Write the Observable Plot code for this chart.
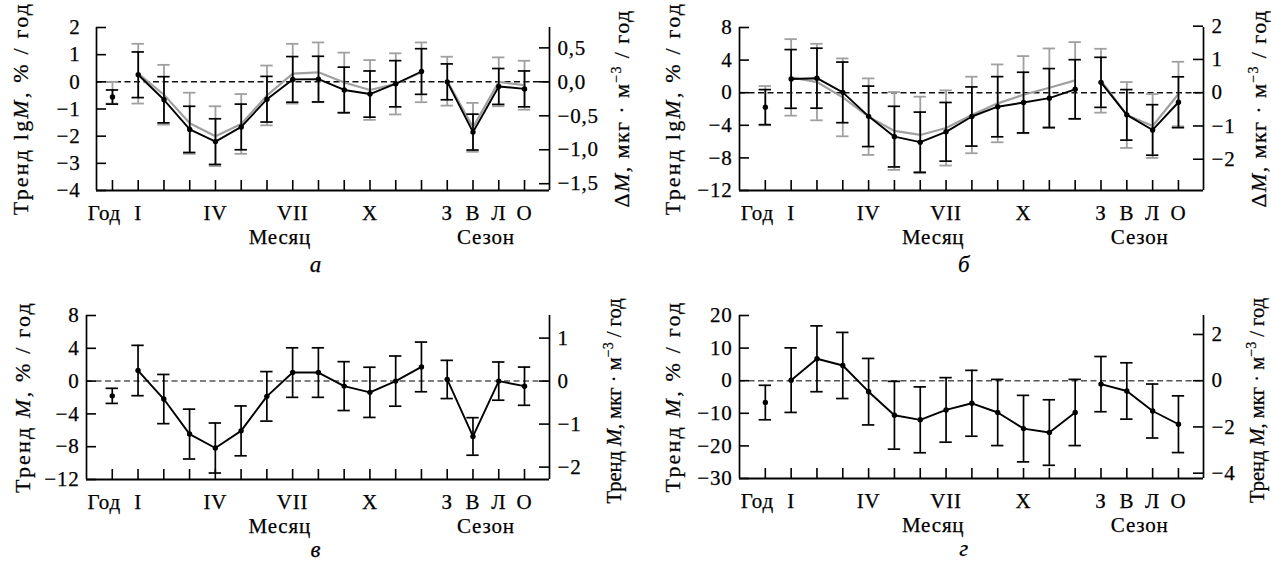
<!DOCTYPE html>
<html><head><meta charset="utf-8">
<script src="https://cdn.jsdelivr.net/npm/d3@7"></script>
<script src="https://cdn.jsdelivr.net/npm/@observablehq/plot@0.6"></script>
<style>
body{margin:0;background:#fff;}
#wrap{position:relative;width:1271px;height:563px;overflow:hidden;background:#fff;}
.cell{position:absolute;width:635px;height:281px;}
svg text{font-family:"Liberation Serif","DejaVu Serif","Noto Serif",serif !important;}
</style></head><body><div id="wrap"></div>
<script>
const categories = ["Год","I","II","III","IV","V","VI","VII","VIII","IX","X","XI","XII","З","В","Л","О"];
const tickLabels = ["Год","I","IV","VII","X","З","В","Л","О"];
const groupLabels = ["Месяц","Сезон"];

// Panel а: black = trend lgM (%/год, left axis); gray = ΔM (мкг·м^-3/год, right axis)
const a_black    = [-0.56,0.26,-0.66,-1.75,-2.20,-1.66,-0.64,0.09,0.10,-0.30,-0.45,-0.07,0.38,0.00,-1.85,-0.17,-0.26];
const a_blackErr = [0.26,0.84,0.85,0.85,0.84,0.84,0.84,0.84,0.84,0.84,0.85,0.85,0.84,0.66,0.66,0.66,0.66];
const a_gray     = [-0.16,0.12,-0.19,-0.61,-0.80,-0.62,-0.20,0.12,0.14,-0.01,-0.12,-0.03,0.14,0.01,-0.67,0.00,-0.05];
const a_grayErr  = [0.16,0.44,0.44,0.45,0.44,0.44,0.44,0.44,0.44,0.44,0.44,0.45,0.44,0.36,0.36,0.36,0.36];

// Panel б
const b_black    = [-1.77,1.69,1.78,0.04,-2.90,-5.39,-6.07,-4.80,-2.92,-1.72,-1.21,-0.67,0.42,1.27,-2.72,-4.57,-1.17];
const b_blackErr = [2.15,3.60,3.68,3.72,3.71,3.72,3.69,3.60,3.63,3.69,3.72,3.63,3.63,3.07,3.10,3.10,3.12];
const b_gray     = [-0.39,0.46,0.32,-0.14,-0.72,-1.15,-1.27,-1.06,-0.67,-0.32,-0.06,0.15,0.37,0.36,-0.67,-1.00,-0.04];
const b_grayErr  = [0.59,1.15,1.15,1.17,1.15,1.17,1.15,1.13,1.15,1.17,1.16,1.18,1.15,0.96,0.99,0.96,0.97];

// Panel в
const c_black    = [-1.80,1.29,-2.19,-6.46,-8.16,-6.07,-1.86,1.04,1.04,-0.61,-1.37,0.00,1.73,0.20,-6.75,0.00,-0.62];
const c_blackErr = [0.92,3.07,3.00,3.04,3.05,3.04,3.02,3.02,3.02,2.98,3.06,3.06,3.03,2.33,2.29,2.33,2.33];

// Panel г
const d_black    = [-6.70,0.17,6.72,4.67,-3.37,-10.60,-12.00,-8.96,-6.93,-9.75,-14.70,-15.90,-9.75,-1.05,-3.15,-9.30,-13.35];
const d_blackErr = [5.29,9.90,10.10,10.14,10.20,10.40,10.10,9.90,10.10,10.15,10.20,10.05,10.15,8.47,8.64,8.28,8.70];

// axis ticks
const a_yTicks = [2,1,0,-1,-2,-3,-4];
const a_rTicks = [0.5,0,-0.5,-1,-1.5];
const b_yTicks = [8,4,0,-4,-8,-12];
const b_rTicks = [2,1,0,-1,-2];
const c_yTicks = [8,4,0,-4,-8,-12];
const c_rTicks = [1,0,-1,-2];
const d_yTicks = [20,10,0,-10,-20,-30];
const d_rTicks = [2,0,-2,-4];

const FONT = "Liberation Serif, DejaVu Serif, Noto Serif, serif";
const FS = 21;
const LFS = 22;

function fmtNum(v, dec) {
  const s = dec ? Math.abs(v).toFixed(dec).replace(".", ",") : String(Math.abs(Math.round(v)));
  return (v < 0 ? "\u2212" : "") + s;
}

function panel(o) {
  const W = 635, H = 281;
  const [x0, x1] = o.xDomain, [y0, y1] = o.yDomain;
  const innerW = W - o.ml - o.mr, innerH = H - o.mt - o.mb;
  const k = o.k;
  const rows = categories.map((c, i) => ({
    i, c, v: o.black[i], e: o.blackErr[i],
    g: o.gray ? o.gray[i] / k : null, ge: o.gray ? o.grayErr[i] / k : null
  }));
  const monthRows = rows.slice(1, 13), seasonRows = rows.slice(13);
  const capW = 0.24;
  const marks = [];
  marks.push(Plot.ruleY([0], {stroke: o.dash, strokeWidth: 1.5, strokeDasharray: "6,3.5"}));
  if (o.gray) {
    const gs = {stroke: "#a0a0a0", strokeWidth: 1.8};
    marks.push(Plot.line(monthRows, {x: "i", y: "g", stroke: "#a0a0a0", strokeWidth: 2.2}));
    marks.push(Plot.line(seasonRows, {x: "i", y: "g", stroke: "#a0a0a0", strokeWidth: 2.2}));
    marks.push(Plot.ruleX(rows, {x: "i", y1: d => d.g - d.ge, y2: d => d.g + d.ge, ...gs}));
    marks.push(Plot.ruleY(rows, {y: d => d.g - d.ge, x1: d => d.i - capW, x2: d => d.i + capW, ...gs}));
    marks.push(Plot.ruleY(rows, {y: d => d.g + d.ge, x1: d => d.i - capW, x2: d => d.i + capW, ...gs}));
  }
  const bs = {stroke: "#000", strokeWidth: 1.7};
  marks.push(Plot.line(monthRows, {x: "i", y: "v", stroke: "#000", strokeWidth: 1.9}));
  marks.push(Plot.line(seasonRows, {x: "i", y: "v", stroke: "#000", strokeWidth: 1.9}));
  marks.push(Plot.ruleX(rows, {x: "i", y1: d => d.v - d.e, y2: d => d.v + d.e, ...bs}));
  marks.push(Plot.ruleY(rows, {y: d => d.v - d.e, x1: d => d.i - capW, x2: d => d.i + capW, ...bs}));
  marks.push(Plot.ruleY(rows, {y: d => d.v + d.e, x1: d => d.i - capW, x2: d => d.i + capW, ...bs}));
  marks.push(Plot.dot(rows, {x: "i", y: "v", r: 2.7, fill: "#000", stroke: null}));
  // frame (left, right, bottom)
  marks.push(Plot.ruleX([x0], {y1: y0, y2: y1, stroke: "#000", strokeWidth: 1.7}));
  marks.push(Plot.ruleX([x1], {y1: y0, y2: y1, stroke: "#000", strokeWidth: 1.7}));
  marks.push(Plot.ruleY([y0], {x1: x0, x2: x1, stroke: "#000", strokeWidth: 2}));
  // inward ticks
  marks.push(Plot.tickY(o.yTicks, {y: d => d, insetRight: innerW - 10, stroke: "#000", strokeWidth: 1.6}));
  marks.push(Plot.tickY(o.rTicks, {y: d => d / k, insetLeft: innerW - 10, stroke: "#000", strokeWidth: 1.6}));
  marks.push(Plot.tickX(rows, {x: "i", insetTop: innerH - 10, stroke: "#000", strokeWidth: 1.6}));
  // tick labels
  const ts = {fontSize: FS, fill: "#000", fontFamily: FONT, stroke: "#000", strokeWidth: 0.25};
  marks.push(Plot.text(o.yTicks, {x: x0, y: d => d, text: d => fmtNum(d, 0), textAnchor: "end", dx: -o.lgap, ...ts}));
  marks.push(Plot.text(o.rTicks, {x: x1, y: d => d / k, text: d => fmtNum(d, o.rDec), textAnchor: "start", dx: 8, ...ts}));
  marks.push(Plot.text(tickLabels, {x: d => categories.indexOf(d), y: y0, dy: 23, text: d => d, ...ts}));
  marks.push(Plot.text(groupLabels.slice(0, 1), {x: 6.5, y: y0, dy: 47, text: d => d, ...ts}));
  marks.push(Plot.text(groupLabels.slice(1), {x: 14.5, y: y0, dy: 47, text: d => d, ...ts}));
  marks.push(Plot.text([o.letter], {x: o.letterX, y: y0, dy: o.letterDy, text: d => d, fontStyle: "italic", ...ts, fontSize: 23}));

  const svg = Plot.plot({
    width: W, height: H,
    marginLeft: o.ml, marginRight: o.mr, marginTop: o.mt, marginBottom: o.mb,
    x: {domain: [x0, x1], axis: null},
    y: {domain: [y0, y1], axis: null},
    style: {fontFamily: FONT, fontSize: FS + "px", background: "transparent", letterSpacing: "0.8px", overflow: "visible"},
    marks
  });
  const s = d3.select(svg);
  // shift the "Год" label slightly left, as in the original
  s.selectAll("text").filter(function() { return this.textContent === "Год"; })
    .attr("dx", -8);
  const cy = o.mt + innerH / 2;
  function vlabel(cx, parts, spacing, size, shift) {
    const t = s.append("text")
      .attr("transform", `translate(${cx},${cy + shift}) rotate(-90)`)
      .attr("text-anchor", "middle").attr("dy", "0.35em")
      .attr("font-family", FONT).attr("font-size", size).attr("fill", "#000")
      .attr("stroke", "#000").attr("stroke-width", 0.25)
      .style("letter-spacing", spacing + "px");
    parts.forEach(p => {
      const ts = t.append("tspan").text(p.t);
      if (p.it) ts.attr("font-style", "italic");
      if (p.sup) ts.attr("font-size", 14).attr("dy", -8);
      if (p.down) ts.attr("dy", 8);
    });
  }
  vlabel(o.llx, o.leftLabel, 2.2, LFS, 0);
  vlabel(o.rlx, o.rightLabel, o.rsp, o.rfs, o.rshift);
  return svg;
}

const lgLabel = [{t: "Тренд lg"}, {t: "M", it: true}, {t: ", % / год"}];
const mLabel = [{t: "Тренд "}, {t: "M", it: true}, {t: ", % / год"}];
const dLabel = [{t: "Δ"}, {t: "M", it: true}, {t: ", мкг · м"}, {t: "\u22123", sup: true}, {t: " / год", down: true}];
const tmLabel = [{t: "Тренд "}, {t: "M", it: true}, {t: ", мкг · м"}, {t: "\u22123", sup: true}, {t: " / год", down: true}];

const panels = [
  {left: 0, top: 0, ml: 96, mr: 86, mt: 27, mb: 91, xDomain: [-0.62, 16.97], yDomain: [-4, 2], k: 0.4,
   black: a_black, blackErr: a_blackErr, gray: a_gray, grayErr: a_grayErr,
   yTicks: a_yTicks, rTicks: a_rTicks, rDec: 1, lgap: 16, dash: "#111", letter: "а", letterX: 7.9, letterDy: 74,
   llx: 20, rlx: 621, rsp: 1.4, rfs: 22, rshift: 0, leftLabel: lgLabel, rightLabel: dLabel},
  {left: 635, top: 0, ml: 104, mr: 67, mt: 27, mb: 91, xDomain: [-1.0, 16.97], yDomain: [-12, 8], k: 0.245,
   black: b_black, blackErr: b_blackErr, gray: b_gray, grayErr: b_grayErr,
   yTicks: b_yTicks, rTicks: b_rTicks, rDec: 0, lgap: 7, dash: "#111", letter: "б", letterX: 7.7, letterDy: 74,
   llx: 37, rlx: 623, rsp: 1.4, rfs: 22, rshift: 0, leftLabel: lgLabel, rightLabel: dLabel},
  {left: 0, top: 282, ml: 86, mr: 86, mt: 33, mb: 84, xDomain: [-1.0, 16.97], yDomain: [-12, 8], k: 0.1907,
   black: c_black, blackErr: c_blackErr,
   yTicks: c_yTicks, rTicks: c_rTicks, rDec: 0, lgap: 7, dash: "#555", letter: "в", letterX: 7.9, letterDy: 70,
   llx: 22, rlx: 614, rsp: 0, rfs: 20.5, rshift: 4, leftLabel: mLabel, rightLabel: tmLabel},
  {left: 635, top: 282, ml: 104, mr: 67, mt: 33, mb: 85, xDomain: [-1.0, 16.97], yDomain: [-30, 20], k: 0.141,
   black: d_black, blackErr: d_blackErr,
   yTicks: d_yTicks, rTicks: d_rTicks, rDec: 0, lgap: 7, dash: "#555", letter: "г", letterX: 7.7, letterDy: 70,
   llx: 37, rlx: 622, rsp: 0, rfs: 20.5, rshift: 4, leftLabel: mLabel, rightLabel: tmLabel}
];

const wrap = document.getElementById("wrap");
panels.forEach(p => {
  const div = document.createElement("div");
  div.className = "cell";
  div.style.left = p.left + "px";
  div.style.top = p.top + "px";
  div.appendChild(panel(p));
  wrap.appendChild(div);
});
</script>
</body></html>
